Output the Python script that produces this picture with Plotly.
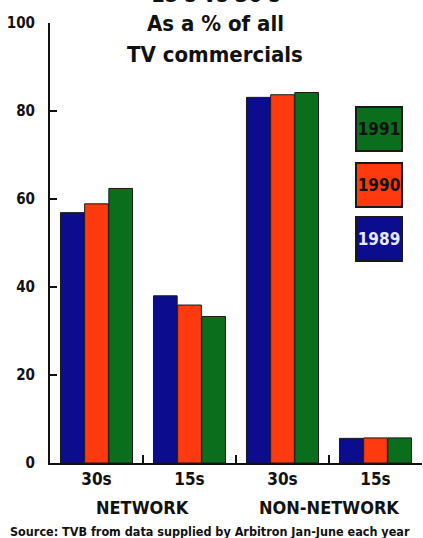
import plotly.graph_objects as go

# Share of all TV commercials by spot length
categories = ["NET-30s", "NET-15s", "NON-30s", "NON-15s"]
tick_labels = ["30s", "15s", "30s", "15s"]
groups = ["NETWORK", "NON-NETWORK"]
years = ["1989", "1990", "1991"]
share_1989 = [56.9, 38.0, 83.1, 5.6]
share_1990 = [58.9, 35.9, 83.7, 5.7]
share_1991 = [62.4, 33.3, 84.2, 5.7]
y_ticks = [0, 20, 40, 60, 80, 100]

colors = {"1989": "#0c0c8e", "1990": "#ff3a0e", "1991": "#0a6e1c"}
year_text_colors = {"1989": "#e8e8ff", "1990": "#111111", "1991": "#111111"}
series = {"1989": share_1989, "1990": share_1990, "1991": share_1991}

FONT = "DejaVu Sans Condensed"
INK = "#111111"


def b(s):
    return f"<b>{s}</b>"


fig = go.Figure()
for yr in years:
    fig.add_trace(go.Bar(
        x=categories, y=series[yr], name=yr,
        marker=dict(color=colors[yr], line=dict(color="#1a1a1a", width=1)),
        showlegend=False,
    ))

fig.update_layout(
    width=423, height=538,
    margin=dict(l=50, r=1, t=23, b=75),
    paper_bgcolor="white", plot_bgcolor="white",
    barmode="group", bargap=0.22, bargroupgap=0.02,
    font=dict(family=FONT, color=INK),
)

fig.update_xaxes(
    type="category", tickvals=categories, ticktext=[b(t) for t in tick_labels],
    showline=True, linecolor=INK, linewidth=2,
    ticks="inside", tickson="boundaries", ticklen=8, tickwidth=2, tickcolor=INK,
    tickfont=dict(family=FONT, size=17, color=INK),
    showgrid=False, zeroline=False,
)
fig.update_yaxes(
    range=[0, 100], tickvals=y_ticks, ticktext=[b(v) for v in y_ticks],
    showline=True, linecolor=INK, linewidth=2,
    ticks="inside", ticklen=7, tickwidth=2, tickcolor=INK,
    tickfont=dict(family=FONT, size=15, color=INK),
    showgrid=False, zeroline=False, ticklabelstandoff=10,
)

annotations = []
# Title lines (the first sits partly above the page edge)
title_lines = [("15's vs 30's", 1.065), ("As a % of all", 0.998), ("TV commercials", 0.928)]
for txt, yy in title_lines:
    annotations.append(dict(
        text=b(txt), x=0.444, y=yy, xref="paper", yref="paper",
        showarrow=False, font=dict(family=FONT, size=22, color=INK),
        xanchor="center", yanchor="middle",
    ))

# Group labels below the tick labels
for i, g in enumerate(groups):
    annotations.append(dict(
        text=b(g), x=0.5 + 2 * i, y=-0.102, xref="x", yref="paper",
        showarrow=False, font=dict(family=FONT, size=18, color=INK),
        xanchor="center", yanchor="middle",
    ))

# Source line
annotations.append(dict(
    text=b("Source: TVB from data supplied by Arbitron Jan-June each year"),
    x=0.43, y=-0.155, xref="paper", yref="paper", showarrow=False,
    font=dict(family=FONT, size=12.5, color=INK),
    xanchor="center", yanchor="middle",
))

# Year key boxes, newest on top
key_y = {"1991": 0.759, "1990": 0.631, "1989": 0.510}
for yr in years:
    annotations.append(dict(
        text=b(yr), x=0.884, y=key_y[yr], xref="paper", yref="paper",
        showarrow=False, width=44, height=42, bgcolor=colors[yr],
        bordercolor="#1a1a1a", borderwidth=2, borderpad=0,
        font=dict(family=FONT, size=17, color=year_text_colors[yr]),
        xanchor="center", yanchor="middle",
    ))

fig.update_layout(annotations=annotations)
fig.write_html("out.html")
